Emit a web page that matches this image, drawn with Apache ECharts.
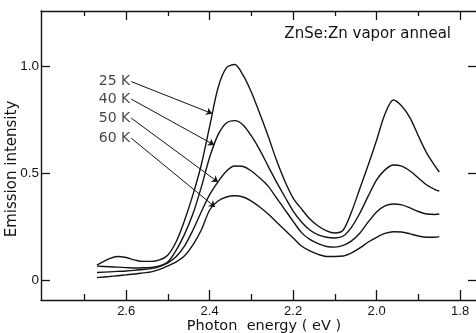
<!DOCTYPE html>
<html><head><meta charset="utf-8">
<script src="https://cdn.jsdelivr.net/npm/echarts@6/dist/echarts.min.js"></script>
<style>html,body{margin:0;padding:0;background:#fff}#c{width:476px;height:333px}</style>
</head><body><div id="c"></div>
<script>
const energy = [2.67,2.64,2.62,2.60,2.58,2.56,2.54,2.52,2.50,2.48,2.46,2.44,2.42,2.40,2.38,2.36,2.34,2.32,2.30,2.28,2.26,2.24,2.22,2.20,2.18,2.16,2.14,2.12,2.10,2.08,2.06,2.04,2.02,2.00,1.98,1.96,1.94,1.92,1.90,1.88,1.86,1.85];
const k25 = [0.070,0.100,0.110,0.105,0.094,0.087,0.087,0.094,0.117,0.180,0.280,0.400,0.540,0.720,0.900,0.994,1.010,0.960,0.880,0.780,0.675,0.562,0.464,0.384,0.333,0.286,0.253,0.230,0.220,0.234,0.320,0.430,0.540,0.656,0.778,0.844,0.816,0.760,0.675,0.595,0.534,0.506];
const k40 = [0.065,0.062,0.060,0.058,0.056,0.057,0.059,0.066,0.085,0.140,0.215,0.310,0.435,0.575,0.680,0.736,0.747,0.727,0.675,0.610,0.534,0.460,0.390,0.323,0.272,0.234,0.211,0.200,0.197,0.206,0.248,0.314,0.394,0.469,0.516,0.539,0.534,0.511,0.478,0.445,0.424,0.417];
const k50 = [0.035,0.038,0.040,0.042,0.045,0.049,0.053,0.063,0.080,0.110,0.160,0.234,0.320,0.400,0.460,0.510,0.534,0.532,0.511,0.478,0.440,0.385,0.330,0.275,0.222,0.190,0.170,0.157,0.154,0.162,0.183,0.220,0.272,0.319,0.347,0.356,0.352,0.338,0.321,0.309,0.307,0.309];
const k60 = [0.011,0.016,0.020,0.024,0.028,0.033,0.038,0.050,0.066,0.085,0.113,0.164,0.234,0.328,0.370,0.389,0.395,0.389,0.370,0.342,0.309,0.272,0.234,0.197,0.159,0.136,0.120,0.110,0.110,0.112,0.127,0.150,0.178,0.200,0.218,0.226,0.225,0.216,0.206,0.200,0.200,0.203];
const seriesNames = ['25 K','40 K','50 K','60 K'];
const labelAnchor = [[2.588,0.930],[2.588,0.848],[2.588,0.759],[2.588,0.665]];
const arrowTip = [[2.394,0.780],[2.389,0.633],[2.380,0.459],[2.387,0.342]];
const majorTicks = [2.6,2.4,2.2,2.0,1.8];
const minorTicks = [2.7,2.5,2.3,2.1,1.9];
const yTicks = [0,0.5,1.0];
const titleText = 'ZnSe:Zn vapor anneal';

const ink = '#141414';
const X_MIN = 1.762, X_MAX = 2.804, Y_MIN = -0.094, Y_MAX = 1.261;
function xAx(pos, vals, len, showLine, withLabel) {
  const a = {
    type:'value', position: pos, min: X_MIN, max: X_MAX, inverse: true,
    axisLine:{show: showLine, onZero:false, lineStyle:{color:ink, width:1.4}},
    axisTick:{show:true, inside:true, length: len, customValues: vals, lineStyle:{color:ink, width:1.3}},
    axisLabel:{show:false, customValues: vals},
    splitLine:{show:false}
  };
  if (withLabel) {
    a.axisLabel = {show:true, customValues: vals, margin:5, color:ink, fontSize:13, fontFamily:'Liberation Sans',
      formatter: v => v.toFixed(1)};
    a.name = 'Photon  energy ( eV )';
    a.nameLocation = 'middle';
    a.nameGap = 19;
    a.nameMoveOverlap = false;
    a.nameTextStyle = {fontSize:14.5, color:ink, fontFamily:'DejaVu Sans', padding:[0,0,0,11]};
  }
  return a;
}
const curves = [k25,k40,k50,k60];
const series = curves.map((vals,i) => ({
  type:'line', name: seriesNames[i], xAxisIndex:0, yAxisIndex:0,
  data: energy.map((e,j) => [e, vals[j]]),
  showSymbol:false, smooth:0.3, silent:true,
  lineStyle:{color:ink, width:1.4},
  markLine:{silent:true, symbol:['none','arrow'], symbolSize:6, animation:false,
    lineStyle:{color:ink, width:1, type:'solid'}, label:{show:false},
    data:[[{coord: labelAnchor[i]}, {coord: arrowTip[i]}]]}
}));
series.push({
  type:'scatter', xAxisIndex:0, yAxisIndex:0, symbolSize:0, silent:true,
  data: labelAnchor.map((p,i) => ({value:p, name:seriesNames[i]})),
  label:{show:true, position:'left', distance:1, formatter:'{b}', fontSize:14, fontFamily:'DejaVu Sans', color:ink}
});
const chart = echarts.init(document.getElementById('c'), null, {renderer:'canvas'});
chart.setOption({
  animation:false,
  backgroundColor:'#fff',
  title:{text:titleText, right:20, top:22, textStyle:{fontSize:15, fontWeight:'normal', fontFamily:'DejaVu Sans', color:ink}},
  grid:{left:41, right:0, top:11, bottom:33, containLabel:false, outerBoundsMode:'none'},
  xAxis:[
    xAx('bottom', majorTicks, 10, true, true),
    xAx('bottom', minorTicks, 6, false, false),
    xAx('top', majorTicks, 9, true, false),
    xAx('top', minorTicks, 5, false, false)
  ],
  yAxis:[
    {type:'value', position:'left', min:Y_MIN, max:Y_MAX,
     axisLine:{show:true, lineStyle:{color:ink, width:1.4}},
     axisTick:{show:true, inside:true, length:9, customValues:yTicks, lineStyle:{color:ink, width:1.3}},
     axisLabel:{show:true, customValues:yTicks, margin:2, color:ink, fontSize:13.5, fontFamily:'Liberation Sans',
       formatter: v => v === 0 ? '0' : v.toFixed(1)},
     splitLine:{show:false},
     name:'Emission intensity', nameLocation:'middle', nameGap:21, nameMoveOverlap:false,
     nameTextStyle:{fontSize:15, color:ink, fontFamily:'DejaVu Sans', padding:[0,27,0,0]}},
    {type:'value', position:'right', min:Y_MIN, max:Y_MAX,
     axisLine:{show:false},
     axisTick:{show:true, inside:true, length:8, customValues:yTicks, lineStyle:{color:ink, width:1.3}},
     axisLabel:{show:false, customValues:yTicks}, splitLine:{show:false}}
  ],
  series: series
});
</script></body></html>
